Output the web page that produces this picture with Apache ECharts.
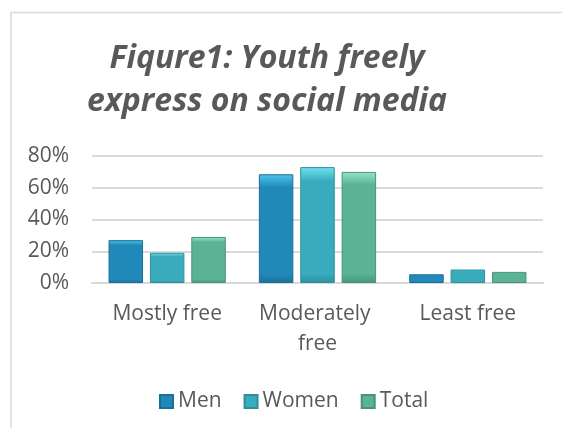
<!DOCTYPE html>
<html>
<head>
<meta charset="utf-8">
<script src="https://cdn.jsdelivr.net/npm/echarts@6/dist/echarts.min.js"></script>
<style>
html,body{margin:0;padding:0;background:#fff;}
#main{width:562px;height:428px;}
</style>
</head>
<body>
<div id="main"></div>
<script>
var categories = ['Mostly free', 'Moderately free', 'Least free'];
var men = [0.27, 0.685, 0.055];
var women = [0.19, 0.73, 0.085];
var total = [0.29, 0.70, 0.07];
var yTicks = [0, 0.2, 0.4, 0.6, 0.8];

var FONT = '"Open Sans", "Noto Sans", sans-serif';
var TXT = '#595959';

function grad(light, face, dark) {
  return new echarts.graphic.LinearGradient(0, 0, 0, 1, [
    {offset: 0, color: light},
    {offset: 0.12, color: face},
    {offset: 0.92, color: face},
    {offset: 1, color: dark}
  ]);
}

var chart = echarts.init(document.getElementById('main'), null, {renderer: 'canvas'});
var option = {
  backgroundColor: '#ffffff',
  animation: false,
  title: {
    text: 'Fiqure1: Youth freely\nexpress on social media',
    left: 262,
    top: 32,
    textAlign: 'center',
    textStyle: {
      fontFamily: FONT,
      fontSize: 32,
      fontWeight: 'bold',
      fontStyle: 'italic',
      color: TXT,
      lineHeight: 43
    }
  },
  graphic: [{
    type: 'polyline',
    shape: {points: [[11, 440], [11, 12.5], [570, 12.5]]},
    style: {stroke: '#d9d9d9', lineWidth: 1.5, fill: null},
    silent: true
  }],
  legend: {
    data: ['Men', 'Women', 'Total'],
    left: 154,
    top: 386,
    icon: 'rect',
    itemWidth: 13,
    itemHeight: 13,
    itemGap: 22,
    textStyle: {fontFamily: FONT, fontSize: 21, color: TXT}
  },
  grid: {left: 92, right: 19, top: 156, bottom: 145, containLabel: false},
  xAxis: {
    type: 'category',
    data: categories,
    axisTick: {show: false},
    axisLine: {lineStyle: {color: '#d9d9d9', width: 2}},
    axisLabel: {
      fontFamily: FONT, fontSize: 21, color: TXT, margin: 16,
      lineHeight: 30, width: 140, overflow: 'break', interval: 0
    }
  },
  yAxis: {
    type: 'value',
    min: 0, max: 0.8, interval: 0.2,
    axisLine: {show: false},
    axisTick: {show: false},
    splitLine: {lineStyle: {color: '#d9d9d9', width: 2}},
    axisLabel: {
      fontFamily: FONT, fontSize: 21, color: TXT, margin: 23,
      formatter: function (v) {
        for (var i = 0; i < yTicks.length; i++) {
          if (Math.abs(v - yTicks[i]) < 1e-9) return Math.round(yTicks[i] * 100) + '%';
        }
        return '';
      }
    }
  },
  series: [
    {
      name: 'Men', type: 'bar', data: men,
      barCategoryGap: '22%', barGap: '20%',
      itemStyle: {color: grad('#4cc6ec', '#2089ba', '#1a6f98'), borderColor: '#1b6e96', borderWidth: 1}
    },
    {
      name: 'Women', type: 'bar', data: women,
      itemStyle: {color: grad('#72e2ee', '#38acbd', '#2d8f9d'), borderColor: '#2f8e9b', borderWidth: 1}
    },
    {
      name: 'Total', type: 'bar', data: total,
      itemStyle: {color: grad('#92e4cb', '#59b394', '#47957b'), borderColor: '#4a927a', borderWidth: 1}
    }
  ]
};
chart.setOption(option);
</script>
</body>
</html>
